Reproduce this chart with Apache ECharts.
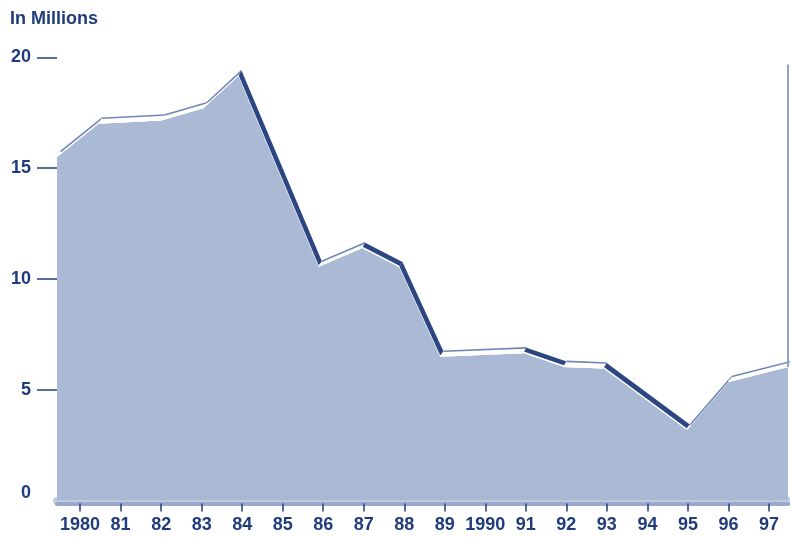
<!DOCTYPE html>
<html>
<head>
<meta charset="utf-8">
<script src="https://cdn.jsdelivr.net/npm/echarts@6/dist/echarts.min.js"></script>
<style>
    html, body { margin: 0; padding: 0; background: #fff; }
    #main { width: 790px; height: 537px; }
</style>
</head>
<body>
<div id="main"></div>
<script>
    // vertices of the front edge (year, millions)
    var years = [1979.43, 1980.45, 1982.0, 1983.04, 1983.9, 1985.88, 1986.95, 1987.87, 1988.88, 1990.93, 1991.92, 1992.91, 1994.97, 1996.0, 1997.47]
    var values = [15.5, 17.0, 17.15, 17.7, 19.15, 10.55, 11.38, 10.52, 6.49, 6.64, 6.03, 5.96, 3.17, 5.35, 6.03]

    // tick years and their labels
    var tickYears = [1980, 1981, 1982, 1983, 1984, 1985, 1986, 1987, 1988, 1989, 1990, 1991, 1992, 1993, 1994, 1995, 1996, 1997]
    var tickLabels = ['1980', '81', '82', '83', '84', '85', '86', '87', '88', '89', '1990', '91', '92', '93', '94', '95', '96', '97']
    var yTicks = [0, 5, 10, 15, 20]

    var navy = '#203c7c'
    var font = "'Liberation Sans', Arial, sans-serif"

    var area = []
    var segs = []
    for (var i = 0; i < years.length; i++) {
        area.push([years[i], values[i]])
        if (i < years.length - 1) {
            segs.push([years[i], values[i], years[i + 1], values[i + 1]])
        }
    }

    //每一段的立体边
    function renderEdge(params, api) {
        var p1 = api.coord([api.value(0), api.value(1)])
        var p2 = api.coord([api.value(2), api.value(3)])
        var ox = 3.5, oy = -5.5
        var slope = (p2[1] - p1[1]) / (p2[0] - p1[0])
        var down = slope > 0.15
        var children = [
            {
                type: 'polygon',
                shape: {points: [p1, p2, [p2[0] + ox, p2[1] + oy], [p1[0] + ox, p1[1] + oy]]},
                style: {fill: down ? '#2c4682' : '#ffffff'}
            },
            {
                type: 'polygon',
                shape: {points: [p1, p2, [p2[0], p2[1] - 2], [p1[0], p1[1] - 2]]},
                style: {fill: '#ffffff'}
            }
        ]
        if (!down) {
            children.push({
                type: 'polyline',
                shape: {points: [[p1[0] + ox, p1[1] + oy], [p2[0] + ox, p2[1] + oy]]},
                style: {stroke: '#6f86b6', lineWidth: 1.6, fill: null}
            })
        }
        return {type: 'group', children: children}
    }

    var chart = echarts.init(document.getElementById('main'), null, {renderer: 'canvas'})
    chart.setOption({
        animation: false,
        title: {
            text: 'In Millions',
            left: 10,
            top: 10,
            padding: 0,
            textStyle: {color: navy, fontSize: 18, fontWeight: 'bold', fontFamily: font}
        },
        grid: {left: 57, right: 2, top: 57.3, bottom: 36.5},
        xAxis: [
            {
                // light strip under the axis
                type: 'value',
                position: 'bottom',
                min: 1979.43,
                max: 1997.47,
                offset: 9,
                z: 0,
                splitLine: {show: false},
                axisLine: {show: true, lineStyle: {color: '#c3cde2', width: 8}},
                axisTick: {show: false},
                axisLabel: {show: false}
            },
            {
                type: 'value',
                position: 'bottom',
                min: 1979.43,
                max: 1997.47,
                offset: 3,
                z: 3,
                splitLine: {show: false},
                axisLine: {show: true, lineStyle: {color: '#98a9cb', width: 4}},
                axisTick: {show: true, customValues: tickYears, length: 8, lineStyle: {color: navy, width: 1.5}},
                axisLabel: {
                    customValues: tickYears,
                    margin: 13,
                    color: navy,
                    fontSize: 18,
                    fontWeight: 'bold',
                    fontFamily: font,
                    formatter: function (v) {
                        var k = tickYears.indexOf(Math.round(v))
                        return k >= 0 ? tickLabels[k] : ''
                    }
                }
            }
        ],
        yAxis: {
            type: 'value',
            min: 0,
            max: 20,
            splitLine: {show: false},
            axisLine: {show: false},
            axisTick: {show: true, customValues: [5, 10, 15, 20], length: 20, lineStyle: {color: navy, width: 1.5}},
            axisLabel: {
                customValues: yTicks,
                margin: 26,
                color: navy,
                fontSize: 18,
                fontWeight: 'bold',
                fontFamily: font,
                formatter: function (v) {
                    return v === 0 ? '{zero|0}' : String(v)
                },
                rich: {
                    zero: {color: navy, fontSize: 18, fontWeight: 'bold', fontFamily: font, padding: [0, 0, 14, 0]}
                }
            }
        },
        series: [
            {
                type: 'line',
                xAxisIndex: 1,
                data: area,
                symbol: 'none',
                lineStyle: {width: 0},
                areaStyle: {color: '#aabad5', opacity: 1},
                z: 1,
                markLine: {
                    silent: true,
                    symbol: 'none',
                    label: {show: false},
                    lineStyle: {color: '#90a4c9', width: 2, type: 'solid'},
                    data: [[{coord: [1997.47, 6.03]}, {coord: [1997.47, 19.68]}]]
                }
            },
            {
                type: 'custom',
                xAxisIndex: 1,
                data: segs,
                encode: {x: [0, 2], y: [1, 3]},
                renderItem: renderEdge,
                z: 2,
                silent: true
            }
        ]
    })
</script>
</body>
</html>
